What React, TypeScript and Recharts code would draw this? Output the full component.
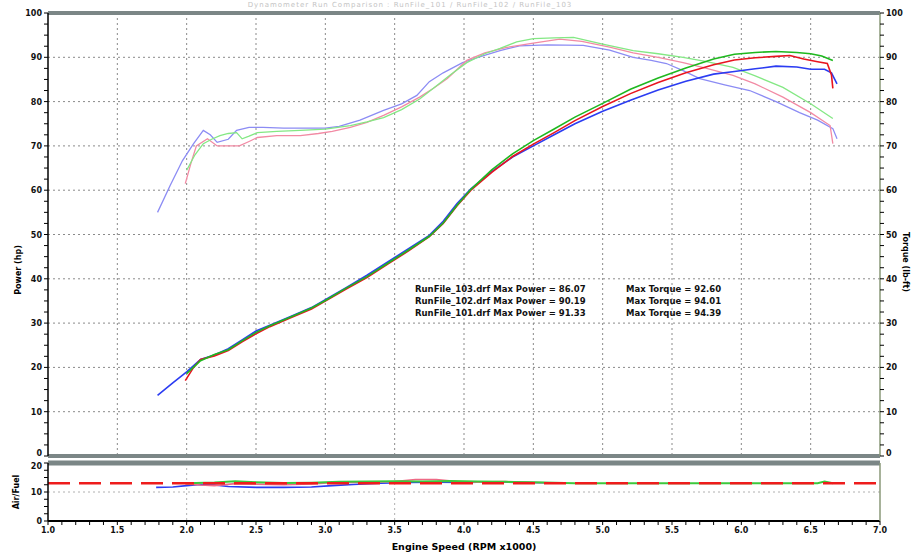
import { LineChart, Line, XAxis, YAxis, CartesianGrid, ReferenceLine } from 'recharts';

// engine speed (RPM x1000) vs value
const bluePower = [
  [1.79, 13.7], [1.9, 16.5], [2.0, 19], [2.1, 21.8], [2.2, 22.8], [2.3, 24.2], [2.4, 26.2], [2.5, 28.2],
  [2.6, 29.5], [2.75, 31.5], [2.9, 33.5], [3.0, 35.3], [3.15, 38], [3.3, 40.8], [3.45, 43.8], [3.6, 46.8],
  [3.75, 49.8], [3.85, 53], [3.95, 57], [4.05, 60.3], [4.2, 64.2], [4.35, 67.5], [4.5, 70], [4.65, 72.5],
  [4.8, 75], [5.0, 77.8], [5.2, 80.3], [5.4, 82.6], [5.6, 84.6], [5.8, 86.2], [5.95, 86.8], [6.1, 87.4],
  [6.25, 88], [6.4, 87.8], [6.5, 87.3], [6.6, 87.3], [6.65, 86.5], [6.69, 84],
];
const redPower = [
  [1.99, 17], [2.05, 20], [2.1, 21.8], [2.2, 22.6], [2.3, 23.8], [2.4, 25.8], [2.5, 27.6], [2.6, 29.2],
  [2.75, 31.2], [2.9, 33.2], [3.0, 35], [3.15, 37.7], [3.3, 40.3], [3.45, 43.3], [3.6, 46.3], [3.75, 49.5],
  [3.85, 52.5], [3.95, 56.5], [4.05, 60], [4.2, 64], [4.35, 67.6], [4.5, 70.4], [4.65, 73], [4.8, 75.7],
  [5.0, 78.9], [5.2, 81.8], [5.4, 84.3], [5.6, 86.5], [5.8, 88.3], [5.95, 89.4], [6.1, 89.9], [6.25, 90.2],
  [6.35, 90.4], [6.45, 89.6], [6.55, 89], [6.62, 88.6], [6.65, 86], [6.66, 83],
];
const greenPower = [
  [2.0, 18.6], [2.1, 21.5], [2.2, 22.9], [2.3, 24], [2.4, 26], [2.5, 27.9], [2.6, 29.4], [2.75, 31.4],
  [2.9, 33.4], [3.0, 35.1], [3.15, 37.9], [3.3, 40.5], [3.45, 43.5], [3.6, 46.5], [3.75, 49.6], [3.85, 52.6],
  [3.95, 56.6], [4.05, 60.2], [4.2, 64.6], [4.35, 68.2], [4.5, 71.2], [4.65, 73.8], [4.8, 76.5], [5.0, 79.6],
  [5.2, 82.8], [5.4, 85.3], [5.6, 87.6], [5.8, 89.6], [5.95, 90.7], [6.1, 91.1], [6.25, 91.3], [6.4, 91.1],
  [6.5, 90.8], [6.58, 90.3], [6.66, 89.3],
];

const blueTorque = [
  [1.79, 55], [1.88, 61], [1.97, 66.7], [2.05, 70.5], [2.12, 73.5], [2.17, 72.5], [2.22, 70.8], [2.3, 71.5],
  [2.36, 73.5], [2.45, 74.2], [2.55, 74.2], [2.7, 74], [2.85, 74], [3.0, 74], [3.1, 74.4], [3.25, 75.8],
  [3.42, 78], [3.55, 79.5], [3.66, 81.4], [3.75, 84.5], [3.85, 86.5], [3.99, 88.8], [4.1, 90], [4.26, 91.5],
  [4.4, 92.6], [4.6, 92.8], [4.86, 92.7], [5.05, 91.6], [5.22, 90], [5.35, 89.3], [5.46, 88.6], [5.58, 87],
  [5.7, 85.2], [5.88, 83.8], [6.06, 82.5], [6.25, 80], [6.42, 77.5], [6.55, 75.8], [6.66, 73.9], [6.69, 71.6],
];
const redTorque = [
  [1.99, 61.5], [2.03, 66], [2.07, 70], [2.15, 71.6], [2.22, 70], [2.3, 70], [2.38, 70], [2.45, 71],
  [2.51, 71.9], [2.65, 72.3], [2.82, 72.3], [2.95, 72.8], [3.05, 73.3], [3.18, 74.2], [3.3, 75.3], [3.42, 76.9],
  [3.55, 78.8], [3.68, 81], [3.78, 83], [3.88, 85.2], [4.02, 89.3], [4.15, 91], [4.3, 92.2], [4.5, 93.2],
  [4.69, 94.1], [4.85, 93.6], [5.05, 92.3], [5.22, 91], [5.4, 90], [5.58, 88.8], [5.75, 87.5], [5.94, 85.9],
  [6.1, 84], [6.3, 81], [6.5, 77.5], [6.64, 74.6], [6.66, 70.5],
];
const greenTorque = [
  [2.0, 64.5], [2.06, 68], [2.12, 70.5], [2.18, 71.5], [2.24, 72.3], [2.3, 72.8], [2.36, 73], [2.4, 71.6],
  [2.45, 72.2], [2.51, 73], [2.65, 73.3], [2.82, 73.5], [3.0, 73.8], [3.18, 74.6], [3.3, 75.4], [3.42, 76.4],
  [3.55, 78.2], [3.68, 80.6], [3.8, 83.5], [3.9, 86], [4.02, 88.8], [4.15, 90.8], [4.26, 92], [4.38, 93.5],
  [4.5, 94.2], [4.65, 94.4], [4.79, 94.5], [5.0, 93], [5.22, 91.5], [5.4, 90.8], [5.58, 90], [5.75, 89],
  [5.94, 87.7], [6.1, 85.8], [6.3, 83.2], [6.5, 79.5], [6.66, 76.2],
];

const blueAfr = [
  [1.78, 11.6], [1.9, 11.7], [2.0, 12.2], [2.1, 12.6], [2.2, 12.4], [2.3, 11.9], [2.5, 11.6], [2.7, 11.6],
  [2.9, 11.7], [3.05, 12.2], [3.2, 12.6], [3.4, 13.0], [3.6, 13.3], [3.8, 13.4], [4.0, 13.3], [4.2, 13.5],
  [4.4, 13.3], [4.6, 13.2],
];
const redAfr = [
  [1.99, 12.8], [2.1, 12.4], [2.2, 12.2], [2.35, 12.9], [2.5, 12.7], [2.7, 12.5], [2.9, 12.8], [3.1, 13.4],
  [3.3, 13.3], [3.5, 13.6], [3.65, 14.3], [3.8, 14.3], [3.95, 13.6], [4.1, 13.4], [4.3, 13.6], [4.5, 13.3],
  [4.6, 13.2],
];
const greenAfr = [
  [2.0, 13.0], [2.2, 13.3], [2.35, 13.7], [2.5, 13.4], [2.7, 13.1], [2.9, 13.2], [3.1, 13.5], [3.3, 13.6],
  [3.5, 13.7], [3.7, 13.6], [3.9, 13.8], [4.1, 13.6], [4.3, 13.5], [4.5, 13.4], [4.65, 13.2], [4.8, 13.0],
  [6.55, 13.0], [6.6, 13.6], [6.66, 13.0],
];
const targetAfr = 13.0;

const xTicks = [1.0, 1.5, 2.0, 2.5, 3.0, 3.5, 4.0, 4.5, 5.0, 5.5, 6.0, 6.5, 7.0];
const yGrid = [10, 20, 30, 40, 50, 60, 70, 80, 90];
const afrTicks = [0, 10, 20];

const legendLines = [
  ['RunFile_103.drf Max Power = 86.07', 'Max Torque = 92.60'],
  ['RunFile_102.drf Max Power = 90.19', 'Max Torque = 94.01'],
  ['RunFile_101.drf Max Power = 91.33', 'Max Torque = 94.39'],
];

const toPts = (arr: number[][]) => arr.map(([x, y]) => ({ x, y }));

const minorY = Array.from({ length: 41 }, (_, i) => i * 2.5);
const minorAfr = Array.from({ length: 9 }, (_, i) => i * 2.5);
const minorX = Array.from({ length: 61 }, (_, i) => Math.round((1 + i * 0.1) * 10) / 10);

const FONT = 'DejaVu Sans, sans-serif';
const tickStyle = { fontSize: 8, fontWeight: 700, fill: '#111', fontFamily: FONT };

const fmtHalf = (v: number) => (xTicks.includes(v) ? v.toFixed(1) : '');

// y tick renderer: only labels the listed values, with an optional nudge per value
const yTick = (labels: number[], anchor: 'start' | 'end', nudge: Record<number, number> = {}) =>
  (props: any) => {
    const { x, y, payload } = props;
    const v = payload.value;
    if (!labels.includes(v)) return <g />;
    return (
      <text x={x} y={y + (nudge[v] || 0)} dy={3} textAnchor={anchor} {...tickStyle}>
        {v}
      </text>
    );
  };

export default function App() {
  return (
    <div style={{ position: 'relative', width: 911, height: 552, background: '#fff', fontFamily: FONT }}>
      <style>{'body{margin:0}'}</style>
      <div style={{ position: 'absolute', left: 150, top: 1, width: 520, textAlign: 'center', fontSize: 7, color: '#c4c4c4', letterSpacing: 1 }}>
        Dynamometer Run Comparison : RunFile_101 / RunFile_102 / RunFile_103
      </div>

      <div style={{ position: 'absolute', left: 0, top: 0 }}>
        <LineChart width={911} height={460} margin={{ top: 13, right: 0, bottom: 4, left: 0 }}>
          <CartesianGrid stroke="#8a8a8a" strokeDasharray="2 3" horizontalValues={yGrid} verticalValues={xTicks.slice(1, -1)} />
          <XAxis type="number" dataKey="x" domain={[1, 7]} hide allowDataOverflow />
          <YAxis
            type="number"
            domain={[0, 100]}
            ticks={minorY}
            width={48}
            tick={yTick(yGrid.concat([0, 100]), 'end', { 0: -3 })}
            axisLine={{ stroke: '#000', strokeWidth: 1.5 }}
            tickLine={{ stroke: '#000' }}
            tickSize={4}
            interval={0}
          />
          <YAxis
            yAxisId="right"
            orientation="right"
            type="number"
            domain={[0, 100]}
            ticks={minorY}
            width={31}
            tick={yTick(yGrid.concat([0, 100]), 'start', { 0: -3 })}
            axisLine={{ stroke: '#8a9878', strokeWidth: 1.5 }}
            tickLine={{ stroke: '#000' }}
            tickSize={4}
            interval={0}
          />
          <ReferenceLine y={100} stroke="#7b8686" strokeWidth={4} />
          <ReferenceLine y={0} stroke="#7b8686" strokeWidth={4} />
          <Line yAxisId="right" data={toPts(blueTorque)} dataKey="y" stroke="#8c8cf4" strokeWidth={1.3} dot={false} isAnimationActive={false} />
          <Line yAxisId="right" data={toPts(redTorque)} dataKey="y" stroke="#f28aa4" strokeWidth={1.3} dot={false} isAnimationActive={false} />
          <Line yAxisId="right" data={toPts(greenTorque)} dataKey="y" stroke="#84e884" strokeWidth={1.3} dot={false} isAnimationActive={false} />
          <Line data={toPts(bluePower)} dataKey="y" stroke="#2b3cf2" strokeWidth={1.6} dot={false} isAnimationActive={false} />
          <Line data={toPts(redPower)} dataKey="y" stroke="#e81420" strokeWidth={1.6} dot={false} isAnimationActive={false} />
          <Line data={toPts(greenPower)} dataKey="y" stroke="#1fb81f" strokeWidth={1.6} dot={false} isAnimationActive={false} />
        </LineChart>
      </div>

      <div style={{ position: 'absolute', left: 0, top: 458 }}>
        <LineChart width={911} height={94} margin={{ top: 5, right: 0, bottom: 0, left: 0 }}>
          <CartesianGrid stroke="#b0b0b0" strokeDasharray="2 3" horizontalValues={[10]} verticalValues={[2.0, 3.5]} />
          <XAxis
            type="number"
            dataKey="x"
            domain={[1, 7]}
            ticks={minorX}
            tickFormatter={fmtHalf}
            interval={0}
            height={31}
            tick={tickStyle}
            axisLine={{ stroke: '#000', strokeWidth: 2 }}
            tickLine={{ stroke: '#000' }}
            tickSize={4}
            allowDataOverflow
          />
          <YAxis
            type="number"
            domain={[0, 20]}
            ticks={minorAfr}
            width={48}
            tick={yTick(afrTicks, 'end', { 20: 3 })}
            axisLine={{ stroke: '#000', strokeWidth: 1.5 }}
            tickLine={{ stroke: '#000' }}
            tickSize={4}
            interval={0}
          />
          <YAxis yAxisId="right" orientation="right" domain={[0, 20]} width={31} tick={false} tickLine={false} axisLine={{ stroke: '#8a9878', strokeWidth: 1.5 }} />
          <ReferenceLine y={20} stroke="#7b8686" strokeWidth={5} />
          <Line data={toPts(blueAfr)} dataKey="y" stroke="#2b3cf2" strokeWidth={1.6} dot={false} isAnimationActive={false} />
          <Line data={toPts(redAfr)} dataKey="y" stroke="#ee6a86" strokeWidth={1.6} dot={false} isAnimationActive={false} />
          <Line data={toPts(greenAfr)} dataKey="y" stroke="#3cc83c" strokeWidth={2} dot={false} isAnimationActive={false} />
          <ReferenceLine y={targetAfr} stroke="#ee1c1c" strokeWidth={2.5} strokeDasharray="22 9" />
        </LineChart>
      </div>

      {legendLines.map(([a, b], i) => (
        <div key={i} style={{ position: 'absolute', top: 284 + i * 12, fontSize: 8.5, fontWeight: 700, color: '#111', whiteSpace: 'nowrap' }}>
          <span style={{ position: 'absolute', left: 415 }}>{a}</span>
          <span style={{ position: 'absolute', left: 626 }}>{b}</span>
        </div>
      ))}

      <div style={{ position: 'absolute', left: 18, top: 270, transform: 'translate(-50%,-50%) rotate(-90deg)', fontSize: 8, fontWeight: 700, whiteSpace: 'nowrap' }}>
        Power (hp)
      </div>
      <div style={{ position: 'absolute', left: 905, top: 262, transform: 'translate(-50%,-50%) rotate(90deg)', fontSize: 8, fontWeight: 700, whiteSpace: 'nowrap' }}>
        Torque (lb-ft)
      </div>
      <div style={{ position: 'absolute', left: 16, top: 492, transform: 'translate(-50%,-50%) rotate(-90deg)', fontSize: 8, fontWeight: 700, whiteSpace: 'nowrap' }}>
        Air/Fuel
      </div>
      <div style={{ position: 'absolute', left: 464, top: 546, transform: 'translate(-50%,-50%)', fontSize: 9.5, fontWeight: 700, whiteSpace: 'nowrap' }}>
        Engine Speed (RPM x1000)
      </div>
    </div>
  );
}
